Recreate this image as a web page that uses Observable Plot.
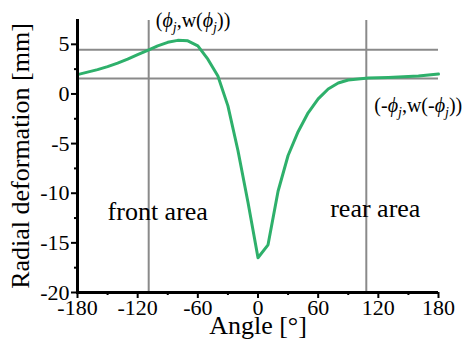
<!DOCTYPE html>
<html>
<head>
<meta charset="utf-8">
<script src="https://cdn.jsdelivr.net/npm/d3@7"></script>
<script src="https://cdn.jsdelivr.net/npm/@observablehq/plot@0.6"></script>
<style>
  html, body { margin: 0; padding: 0; background: white; }
  #chart { width: 466px; height: 345px; }
</style>
</head>
<body>
<div id="chart"></div>
<script>
// ---- data ----
const angles = [-180,-170,-160,-150,-140,-130,-120,-110,-100,-90,-80,-70,-60,-50,-40,-30,-20,-10,0,10,20,30,40,50,60,70,80,90,100,110,120,130,140,150,160,170,180];
const deformation = [1.95,2.2,2.45,2.75,3.1,3.5,3.95,4.4,4.85,5.2,5.4,5.35,4.85,3.5,1.8,-1.2,-5.7,-10.9,-16.5,-15.2,-9.8,-6.2,-3.8,-1.9,-0.5,0.5,1.1,1.4,1.5,1.6,1.62,1.65,1.7,1.75,1.8,1.9,2.0];
const xTicks = [-180,-120,-60,0,60,120,180];
const xMinorTicks = [-150,-90,-30,30,90,150];
const yTicks = [-20,-15,-10,-5,0,5];
const yMinorTicks = [-17.5,-12.5,-7.5,-2.5,2.5];
const refAngles = [-109, 108];
const refLevels = [4.45, 1.55];
const annotations = ["(ϕj,w(ϕj))", "(-ϕj,w(-ϕj))"];
const areaLabels = ["front area", "rear area"];
const xLabel = "Angle [°]";
const yLabel = "Radial deformation [mm]";

const data = angles.map((a, i) => ({angle: a, w: deformation[i]}));
const green = "#2eb06b";
const grey = "#8a8a8a";
const serif = "Liberation Serif";

const chart = Plot.plot({
  width: 466,
  height: 345,
  marginLeft: 77,
  marginRight: 28,
  marginTop: 19,
  marginBottom: 53,
  x: {domain: [-180, 180]},
  y: {domain: [-20, 7.5]},
  style: {fontFamily: serif, background: "white", color: "black"},
  marks: [
    Plot.ruleY(refLevels, {stroke: grey, strokeWidth: 2}),
    Plot.ruleX(refAngles, {y1: -20, y2: 7.4, stroke: grey, strokeWidth: 2}),
    Plot.line(data, {x: "angle", y: "w", stroke: green, strokeWidth: 3}),
    Plot.axisX({ticks: xTicks, tickSize: 6, tickPadding: 1, fontSize: 22, tickFormat: d => String(d), strokeWidth: 2, label: null}),
    Plot.axisX({ticks: xMinorTicks, tickSize: 3, text: null, strokeWidth: 2, label: null}),
    Plot.axisY({ticks: yTicks, tickSize: 6, tickPadding: 2, fontSize: 22, tickFormat: d => String(d), strokeWidth: 2, label: null}),
    Plot.axisY({ticks: yMinorTicks, tickSize: 3, text: null, strokeWidth: 2, label: null}),
    Plot.ruleX([-180], {y1: -20, y2: 7.5, stroke: "black", strokeWidth: 3}),
    Plot.ruleY([-20], {x1: -181, x2: 180, stroke: "black", strokeWidth: 3}),
    Plot.text([annotations[0]], {x: -102, y: 7.35, textAnchor: "start", fontSize: 20}),
    Plot.text([annotations[1]], {x: 116, y: -1.2, textAnchor: "start", fontSize: 20}),
    Plot.text([areaLabels[0]], {x: -150, y: -11.9, textAnchor: "start", fontSize: 26}),
    Plot.text([areaLabels[1]], {x: 72, y: -11.6, textAnchor: "start", fontSize: 26}),
    Plot.text([xLabel], {x: 0, y: -20, dy: 41, lineAnchor: "bottom", fontSize: 26}),
    Plot.text([yLabel], {x: -180, y: -6.25, dx: -57, rotate: -90, fontSize: 26})
  ]
});

// force serif font on every text
d3.select(chart).selectAll("g, text").style("font-family", "'Liberation Serif', 'Times New Roman', serif").style("font-variant", "normal");

// rich text for the phi annotations (italic phi, subscript j)
d3.select(chart).selectAll("text").each(function() {
  const t = this.textContent;
  if (t === annotations[0] || t === annotations[1]) {
    const neg = t === annotations[1] ? "-" : "";
    const sel = d3.select(this);
    sel.text(null);
    const parts = [
      ["(" + neg, null], ["ϕ", "i"], ["j", "s"], [",w(" + neg, null], ["ϕ", "i"], ["j", "s"], ["))", null]
    ];
    let shifted = false;
    for (const [s, kind] of parts) {
      const ts = sel.append("tspan").text(s);
      if (kind === "i") ts.attr("font-style", "italic");
      if (kind === "s") { ts.attr("font-style", "italic").attr("font-size", 14).attr("dy", "5"); shifted = true; }
      else if (shifted) { ts.attr("dy", "-5"); shifted = false; }
    }
  }
});

document.getElementById("chart").appendChild(chart);
</script>
</body>
</html>
